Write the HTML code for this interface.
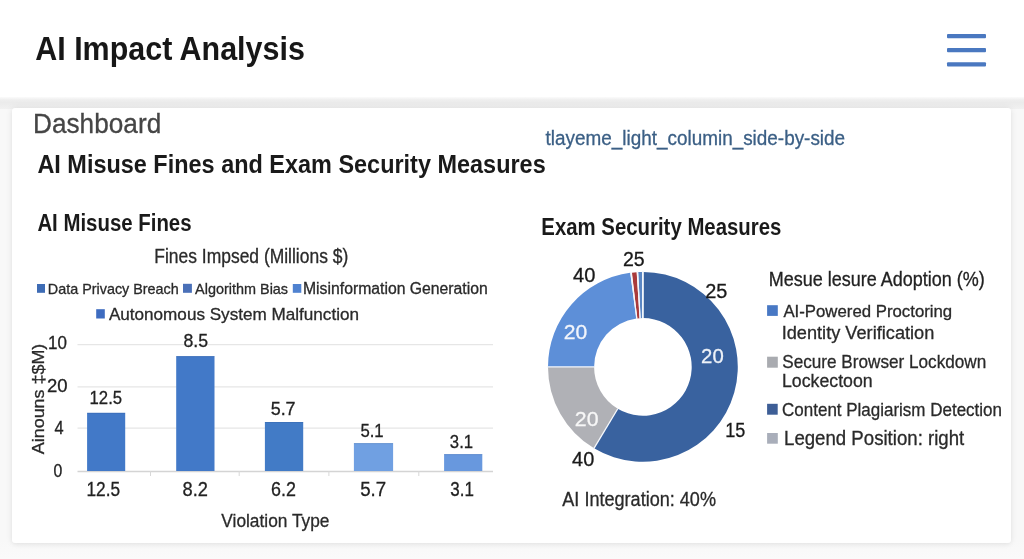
<!DOCTYPE html>
<html><head><meta charset="utf-8"><title>AI Impact Analysis</title>
<style>
html,body{margin:0;padding:0;}
body{width:1024px;height:559px;overflow:hidden;background:linear-gradient(#f8f8f8 0,#f8f8f8 540px,#fafafa 559px);position:relative;font-family:"Liberation Sans",Arial,sans-serif;}
.hdr{position:absolute;left:0;top:0;width:1024px;height:98px;background:#fff;box-shadow:0 1px 4px rgba(0,0,0,0.05);}
.band{position:absolute;left:0;top:97px;width:1024px;height:12px;background:linear-gradient(#fbfbfb 0,#efefef 22%,#ebebeb 45%,#eeeeee 75%,#f1f1f1 100%);}
.card{position:absolute;left:12px;top:108px;width:999px;height:435px;background:#fff;border-radius:3px;box-shadow:0 0 7px rgba(0,0,0,0.08),0 2px 4px rgba(0,0,0,0.04);}
svg{position:absolute;left:0;top:0;}
svg text{font-family:"Liberation Sans",Arial,sans-serif;}
</style></head>
<body>
<div class="hdr"></div>
<div class="band"></div>
<div class="card"></div>
<svg width="1024" height="559" viewBox="0 0 1024 559">
<rect x="947" y="34.0" width="39" height="4.2" rx="1" fill="#4a78c0"/><rect x="947" y="48.0" width="39" height="4.2" rx="1" fill="#4a78c0"/><rect x="947" y="62.2" width="39" height="4.2" rx="1" fill="#4a78c0"/>
<line x1="77.5" y1="344.6" x2="493" y2="344.6" stroke="#e6e6e6" stroke-width="1.2"/><line x1="77.5" y1="386.9" x2="493" y2="386.9" stroke="#e6e6e6" stroke-width="1.2"/><line x1="77.5" y1="428.2" x2="493" y2="428.2" stroke="#e6e6e6" stroke-width="1.2"/>
<line x1="77.5" y1="471.5" x2="493" y2="471.5" stroke="#d4d4d4" stroke-width="1.3"/>
<line x1="150.5" y1="471.0" x2="150.5" y2="476.0" stroke="#d8d8d8" stroke-width="1"/><line x1="239.2" y1="471.0" x2="239.2" y2="476.0" stroke="#d8d8d8" stroke-width="1"/><line x1="328.9" y1="471.0" x2="328.9" y2="476.0" stroke="#d8d8d8" stroke-width="1"/><line x1="418.8" y1="471.0" x2="418.8" y2="476.0" stroke="#d8d8d8" stroke-width="1"/>
<rect x="87.1" y="412.8" width="38.1" height="58.2" fill="#4279c8"/><rect x="87.1" y="412.8" width="38.1" height="1" fill="#1a3060" fill-opacity="0.12"/><rect x="176.2" y="356.1" width="38.3" height="114.9" fill="#4279c8"/><rect x="176.2" y="356.1" width="38.3" height="1" fill="#1a3060" fill-opacity="0.12"/><rect x="264.9" y="422.0" width="38.3" height="49.0" fill="#427bc6"/><rect x="264.9" y="422.0" width="38.3" height="1" fill="#1a3060" fill-opacity="0.12"/><rect x="353.9" y="443.1" width="39.2" height="27.9" fill="#70a0e2"/><rect x="353.9" y="443.1" width="39.2" height="1" fill="#1a3060" fill-opacity="0.12"/><rect x="444.1" y="454.1" width="38.2" height="16.9" fill="#6898de"/><rect x="444.1" y="454.1" width="38.2" height="1" fill="#1a3060" fill-opacity="0.12"/>
<rect x="37.0" y="284.0" width="8.0" height="8.8" fill="#3e6cb5"/><rect x="183.0" y="283.8" width="8.9" height="9.0" fill="#4a70b8"/><rect x="292.8" y="284.0" width="8.5" height="8.8" fill="#4f82d0"/><rect x="96.2" y="309.2" width="8.6" height="9.3" fill="#3e6cc0"/><rect x="767.1" y="305.2" width="10.7" height="10.7" fill="#4878c4"/><rect x="767.1" y="356.7" width="10.7" height="11.0" fill="#a9abb0"/><rect x="767.1" y="403.8" width="10.6" height="10.9" fill="#3d5e96"/><rect x="767.1" y="433.0" width="10.7" height="10.7" fill="#a9aeba"/>
<path d="M643.40,272.00 A94.9,94.9 0 1 1 594.02,448.25 L617.77,408.73 A48.8,48.8 0 1 0 643.16,318.10 Z" fill="#39629f"/><path d="M594.02,448.25 A94.9,94.9 0 0 1 548.00,366.90 L594.10,366.90 A48.8,48.8 0 0 0 617.77,408.73 Z" fill="#b0b1b6"/><path d="M548.00,366.90 A94.9,94.9 0 0 1 630.18,272.86 L636.36,318.54 A48.8,48.8 0 0 0 594.10,366.90 Z" fill="#5d8fd8"/><path d="M631.99,272.63 A94.9,94.9 0 0 1 636.61,272.21 L639.67,318.21 A48.8,48.8 0 0 0 637.29,318.42 Z" fill="#a93a3b"/><path d="M638.26,272.11 A94.9,94.9 0 0 1 642.24,272.00 L642.56,318.10 A48.8,48.8 0 0 0 640.52,318.16 Z" fill="#5a86c4"/>
<line x1="642.90" y1="318.10" x2="642.90" y2="271.00" stroke="#f4f7fc" stroke-width="1.3"/><line x1="617.77" y1="408.73" x2="593.51" y2="449.10" stroke="#f4f7fc" stroke-width="1.3"/><line x1="594.10" y1="366.90" x2="547.00" y2="366.90" stroke="#f4f7fc" stroke-width="1.3"/><line x1="636.78" y1="318.48" x2="630.88" y2="271.76" stroke="#f4f7fc" stroke-width="1.3"/><line x1="640.09" y1="318.18" x2="637.38" y2="271.16" stroke="#f4f7fc" stroke-width="1.3"/><line x1="642.81" y1="318.10" x2="642.73" y2="271.00" stroke="#f4f7fc" stroke-width="1.3"/>
<text x="35.28" y="59.70" font-weight="700" font-size="33" fill="#171717" textLength="269.55" lengthAdjust="spacingAndGlyphs">AI Impact Analysis</text>
<text x="33.03" y="133.00" font-weight="400" font-size="28" fill="#454545" stroke="#454545" stroke-width="0.3" textLength="128.19" lengthAdjust="spacingAndGlyphs">Dashboard</text>
<text x="545.60" y="144.90" font-weight="400" font-size="19.6" fill="#3b5f85" stroke="#3b5f85" stroke-width="0.3" textLength="299.48" lengthAdjust="spacingAndGlyphs">tlayeme_light_columin_side-by-side</text>
<text x="37.40" y="172.50" font-weight="700" font-size="25.3" fill="#1a1a1a" textLength="508.30" lengthAdjust="spacingAndGlyphs">AI Misuse Fines and Exam Security Measures</text>
<text x="37.40" y="231.40" font-weight="700" font-size="23.5" fill="#1a1a1a" textLength="154.13" lengthAdjust="spacingAndGlyphs">AI Misuse Fines</text>
<text x="154.29" y="262.80" font-weight="400" font-size="19.3" fill="#2a2a2a" stroke="#2a2a2a" stroke-width="0.3" textLength="193.97" lengthAdjust="spacingAndGlyphs">Fines Impsed (Millions $)</text>
<text x="47.83" y="293.70" font-weight="400" font-size="14.8" fill="#2a2a2a" stroke="#2a2a2a" stroke-width="0.3" textLength="130.92" lengthAdjust="spacingAndGlyphs">Data Privacy Breach</text>
<text x="195.10" y="293.70" font-weight="400" font-size="14.8" fill="#2a2a2a" stroke="#2a2a2a" stroke-width="0.3" textLength="93.00" lengthAdjust="spacingAndGlyphs">Algorithm Bias</text>
<text x="302.99" y="293.90" font-weight="400" font-size="15.6" fill="#2a2a2a" stroke="#2a2a2a" stroke-width="0.3" textLength="184.81" lengthAdjust="spacingAndGlyphs">Misinformation Generation</text>
<text x="108.90" y="319.60" font-weight="400" font-size="17" fill="#2a2a2a" stroke="#2a2a2a" stroke-width="0.3" textLength="250.12" lengthAdjust="spacingAndGlyphs">Autonomous System Malfunction</text>
<text x="47.98" y="349.40" font-weight="400" font-size="18.5" fill="#222" stroke="#222" stroke-width="0.3" textLength="18.85" lengthAdjust="spacingAndGlyphs">10</text>
<text x="47.00" y="392.00" font-weight="400" font-size="18.5" fill="#222" stroke="#222" stroke-width="0.3" textLength="20.58" lengthAdjust="spacingAndGlyphs">20</text>
<text x="54.60" y="433.70" font-weight="400" font-size="18.0" fill="#222" stroke="#222" stroke-width="0.3" textLength="9.11" lengthAdjust="spacingAndGlyphs">4</text>
<text x="53.50" y="477.30" font-weight="400" font-size="18.8" fill="#222" stroke="#222" stroke-width="0.3" textLength="8.78" lengthAdjust="spacingAndGlyphs">0</text>
<text x="89.52" y="404.10" font-weight="400" font-size="19" fill="#222" stroke="#222" stroke-width="0.3" textLength="32.57" lengthAdjust="spacingAndGlyphs">12.5</text>
<text x="183.40" y="346.50" font-weight="400" font-size="19" fill="#222" stroke="#222" stroke-width="0.3" textLength="24.59" lengthAdjust="spacingAndGlyphs">8.5</text>
<text x="270.66" y="415.40" font-weight="400" font-size="19" fill="#222" stroke="#222" stroke-width="0.3" textLength="24.94" lengthAdjust="spacingAndGlyphs">5.7</text>
<text x="360.42" y="437.40" font-weight="400" font-size="19" fill="#222" stroke="#222" stroke-width="0.3" textLength="23.25" lengthAdjust="spacingAndGlyphs">5.1</text>
<text x="449.86" y="448.10" font-weight="400" font-size="19" fill="#222" stroke="#222" stroke-width="0.3" textLength="23.25" lengthAdjust="spacingAndGlyphs">3.1</text>
<text x="86.40" y="496.00" font-weight="400" font-size="19.3" fill="#222" stroke="#222" stroke-width="0.3" textLength="33.67" lengthAdjust="spacingAndGlyphs">12.5</text>
<text x="182.50" y="496.00" font-weight="400" font-size="19.3" fill="#222" stroke="#222" stroke-width="0.3" textLength="25.37" lengthAdjust="spacingAndGlyphs">8.2</text>
<text x="271.07" y="496.00" font-weight="400" font-size="19.3" fill="#222" stroke="#222" stroke-width="0.3" textLength="24.88" lengthAdjust="spacingAndGlyphs">6.2</text>
<text x="360.13" y="495.60" font-weight="400" font-size="19.3" fill="#222" stroke="#222" stroke-width="0.3" textLength="25.95" lengthAdjust="spacingAndGlyphs">5.7</text>
<text x="450.37" y="495.60" font-weight="400" font-size="19.3" fill="#222" stroke="#222" stroke-width="0.3" textLength="23.59" lengthAdjust="spacingAndGlyphs">3.1</text>
<text x="221.30" y="527.10" font-weight="400" font-size="18.6" fill="#2a2a2a" stroke="#2a2a2a" stroke-width="0.3" textLength="108.13" lengthAdjust="spacingAndGlyphs">Violation Type</text>
<text x="541.34" y="234.60" font-weight="700" font-size="23.8" fill="#1a1a1a" textLength="240.03" lengthAdjust="spacingAndGlyphs">Exam Security Measures</text>
<text x="622.92" y="265.80" font-weight="400" font-size="20" fill="#1a1a1a" stroke="#1a1a1a" stroke-width="0.3" textLength="21.72" lengthAdjust="spacingAndGlyphs">25</text>
<text x="573.10" y="282.30" font-weight="400" font-size="19.3" fill="#1a1a1a" stroke="#1a1a1a" stroke-width="0.3" textLength="22.37" lengthAdjust="spacingAndGlyphs">40</text>
<text x="705.30" y="297.50" font-weight="400" font-size="20" fill="#1a1a1a" stroke="#1a1a1a" stroke-width="0.3" textLength="22.14" lengthAdjust="spacingAndGlyphs">25</text>
<text x="701.12" y="363.10" font-weight="400" font-size="20.8" fill="#eef2f8" stroke="#eef2f8" stroke-width="0.3" textLength="22.61" lengthAdjust="spacingAndGlyphs">20</text>
<text x="563.89" y="338.60" font-weight="400" font-size="20.8" fill="#f2f5fb" stroke="#f2f5fb" stroke-width="0.3" textLength="23.46" lengthAdjust="spacingAndGlyphs">20</text>
<text x="574.89" y="426.40" font-weight="400" font-size="21" fill="#f7f7f7" stroke="#f7f7f7" stroke-width="0.3" textLength="23.68" lengthAdjust="spacingAndGlyphs">20</text>
<text x="725.21" y="437.20" font-weight="400" font-size="20.3" fill="#1a1a1a" stroke="#1a1a1a" stroke-width="0.3" textLength="20.09" lengthAdjust="spacingAndGlyphs">15</text>
<text x="572.10" y="466.20" font-weight="400" font-size="20" fill="#1a1a1a" stroke="#1a1a1a" stroke-width="0.3" textLength="22.15" lengthAdjust="spacingAndGlyphs">40</text>
<text x="562.30" y="505.80" font-weight="400" font-size="19.5" fill="#2a2a2a" stroke="#2a2a2a" stroke-width="0.3" textLength="153.67" lengthAdjust="spacingAndGlyphs">AI Integration: 40%</text>
<text x="768.78" y="285.50" font-weight="400" font-size="19.6" fill="#222" stroke="#222" stroke-width="0.3" textLength="215.86" lengthAdjust="spacingAndGlyphs">Mesue lesure Adoption (%)</text>
<text x="783.40" y="316.70" font-weight="400" font-size="16.4" fill="#2a2a2a" stroke="#2a2a2a" stroke-width="0.3" textLength="168.83" lengthAdjust="spacingAndGlyphs">AI-Powered Proctoring</text>
<text x="781.63" y="338.90" font-weight="400" font-size="18.7" fill="#2a2a2a" stroke="#2a2a2a" stroke-width="0.3" textLength="152.71" lengthAdjust="spacingAndGlyphs">Identity Verification</text>
<text x="782.27" y="368.10" font-weight="400" font-size="18.5" fill="#2a2a2a" stroke="#2a2a2a" stroke-width="0.3" textLength="204.01" lengthAdjust="spacingAndGlyphs">Secure Browser Lockdown</text>
<text x="782.02" y="386.90" font-weight="400" font-size="18" fill="#2a2a2a" stroke="#2a2a2a" stroke-width="0.3" textLength="90.65" lengthAdjust="spacingAndGlyphs">Lockectoon</text>
<text x="782.08" y="415.80" font-weight="400" font-size="18.5" fill="#2a2a2a" stroke="#2a2a2a" stroke-width="0.3" textLength="219.86" lengthAdjust="spacingAndGlyphs">Content Plagiarism Detection</text>
<text x="784.04" y="445.10" font-weight="400" font-size="19.5" fill="#2a2a2a" stroke="#2a2a2a" stroke-width="0.3" textLength="180.21" lengthAdjust="spacingAndGlyphs">Legend Position: right</text>
<text transform="translate(44.0,454.2) rotate(-90)" x="0" y="0" font-size="16.8" fill="#2a2a2a" stroke="#2a2a2a" stroke-width="0.3" textLength="110.5" lengthAdjust="spacingAndGlyphs">Ainouns ‡$M)</text>
</svg>
</body></html>
